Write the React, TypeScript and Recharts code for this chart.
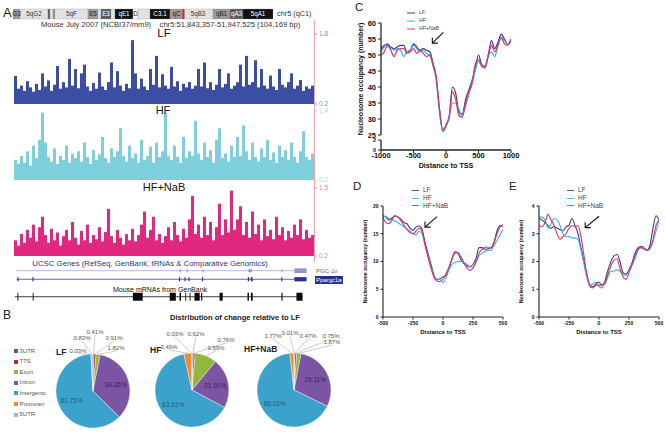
import React from 'react';
import {
  BarChart, Bar, LineChart, Line, ComposedChart, PieChart, Pie, Cell,
  XAxis, YAxis, Legend, ReferenceArea, ReferenceLine, LabelList,
} from 'recharts';

const FONT = '"Liberation Sans", Arial, Helvetica, sans-serif';

// ---------- A: ideogram of chr5 (band sizes in ideogram units) ----------
const bandNames = ['G3', '5qG2', '', '', '', '5qF', 'E5', '', 'E3', '', 'qE1', 'D', '', 'C3.1', 'qC', '5qB3', 'qB1', 'qA3', '5qA1'];
const bandSizes = [7, 28, 2, 3, 2, 33, 10, 3, 10, 4, 18, 5, 12, 20, 13, 30, 17, 13, 30];
const bandStains = ['gpos50', 'gneg', 'gpos75', 'gneg', 'gpos50', 'gneg', 'gpos50', 'gneg', 'gpos75', 'gneg', 'gpos100', 'white', 'gneg', 'gpos100', 'gpos50', 'gneg', 'gpos50', 'gpos75', 'gpos100'];
const viewPosition = 170.5;

// ---------- A: signal tracks (read density, 100 bins over the region) ----------
const trackLF = [
  0.84, 0.55, 0.62, 0.5, 0.72, 0.58, 0.48, 0.66, 0.52, 0.9,
  0.6, 0.74, 0.5, 0.64, 1.07, 0.55, 0.7, 0.58, 1.23, 0.62,
  1.0, 0.56, 0.9, 1.1, 0.6, 0.5, 0.68, 0.55, 0.92, 0.6,
  0.52, 0.7, 1.15, 0.58, 0.95, 0.62, 0.5, 0.66, 0.56, 1.66,
  0.9, 0.55, 0.78, 0.6, 0.52, 1.0, 0.64, 1.3, 0.58, 0.88,
  0.62, 0.55, 1.05, 0.6, 0.72, 0.5, 0.66, 0.58, 0.7, 0.55,
  0.62, 1.0, 0.6, 1.15, 0.56, 0.7, 0.52, 0.64, 1.0, 0.58,
  0.66, 0.9, 0.55, 0.62, 0.7, 1.1, 0.6, 1.3, 0.64, 0.7,
  1.2, 0.58, 1.0, 0.62, 0.55, 0.85, 0.6, 0.52, 1.0, 0.64,
  0.58, 0.7, 0.9, 0.55, 0.62, 0.75, 0.5, 0.6, 0.55, 0.62,
];
const trackHF = [
  0.55, 0.48, 0.62, 0.5, 0.7, 0.45, 0.8, 0.58, 0.9, 1.37,
  0.85, 0.6, 0.52, 0.75, 0.48, 0.62, 0.55, 0.8, 0.5, 0.66,
  0.58, 0.7, 0.52, 0.85, 0.6, 0.48, 0.72, 0.55, 0.65, 0.95,
  0.58, 0.5, 0.75, 0.6, 0.7, 1.1, 0.62, 0.52, 0.8, 0.58,
  0.66, 0.5, 0.9, 0.55, 0.62, 0.78, 0.5, 0.85, 0.6, 0.7,
  1.37, 0.62, 0.55, 0.8, 0.6, 0.5, 0.95, 0.58, 0.7, 0.62,
  1.23, 0.66, 0.55, 0.85, 0.6, 0.72, 0.5, 0.9, 1.1, 0.58,
  0.66, 0.52, 0.8, 0.6, 0.95, 0.62, 1.15, 0.7, 0.55, 0.85,
  0.6, 0.52, 0.75, 0.6, 0.9, 0.55, 0.68, 0.5, 0.8, 0.6,
  0.72, 0.55, 0.85, 0.6, 0.5, 0.7, 1.05, 0.6, 0.55, 0.66,
];
const trackNaB = [
  0.5, 0.4, 0.62, 0.45, 0.7, 0.55, 0.8, 0.48, 0.75, 0.95,
  0.6, 0.45, 0.72, 0.5, 0.65, 0.4, 0.58, 0.7, 0.5, 0.85,
  0.55, 0.42, 0.68, 0.5, 0.8, 0.45, 0.6, 0.52, 0.75, 0.48,
  0.66, 1.1, 0.58, 0.45, 0.7, 0.55, 0.42, 0.62, 0.5, 0.72,
  0.48, 0.6, 0.8, 1.05, 0.55, 0.7, 0.95, 0.5, 0.62, 0.45,
  0.58, 0.75, 0.5, 0.85, 0.6, 0.48, 0.72, 0.55, 0.9, 1.35,
  0.62, 0.8, 0.55, 0.95, 0.6, 0.85, 0.5, 0.75, 1.2, 0.6,
  0.9, 0.65, 1.45, 0.7, 0.9, 1.15, 0.6, 0.85, 0.55, 1.05,
  0.62, 0.8, 0.5, 0.9, 0.58, 0.7, 0.52, 0.95, 0.6, 0.75,
  0.5, 0.68, 0.55, 0.8, 0.6, 0.9, 0.52, 0.7, 0.55, 0.6,
];

// ---------- A: gene models (kb from region start) ----------
const regionKb = [0, 104.2];
const pgcSpan = [0.9, 101.6];
const pgcExons = [[57.5, 57.9], [60, 60.4], [65.5, 65.9], [81.4, 82.6], [92.9, 93.3], [97.4, 101.6]];
const ppargcSpan = [0.9, 101.6];
const ppargcExons = [[1.2, 1.6], [6.4, 6.8], [57.3, 57.7], [59.2, 59.6], [60.6, 61], [65.3, 65.7], [81.2, 81.7], [82.3, 82.9], [92.8, 93.2], [97.4, 101.6]];
const mrnaSpan = [0.3, 100.2];
const mrnaBlocks = [[1.2, 1.5], [6.5, 6.8], [41.3, 44.7], [54.1, 56.2], [57.5, 58], [59.5, 59.8], [61, 61.3], [62.7, 64.5], [65, 65.4], [71.4, 72.5], [81.1, 81.6], [82.3, 82.9], [92.9, 93.3], [98.1, 100.2]];

// ---------- B: genomic distribution (%) ----------
const pieCategories = ['3UTR', 'TTS', 'Exon', 'Intron', 'Intergenic', 'Promoter', '5UTR'];
const pieLF = [0.41, 0.91, 1.82, 34.26, 61.75, 0.03, 0.83];
const pieHF = [0.62, 0.76, 9.59, 21.90, 63.61, 3.49, 0.03];
const pieNaB = [0.47, 0.75, 1.87, 29.11, 66.02, 1.77, 0.01];

// ---------- C: nucleosome occupancy, +/-1000 bp ----------
const xC = [-1000, -950, -900, -850, -800, -750, -700, -650, -600, -550, -500, -450, -400, -350, -300, -250, -200, -150, -100, -50, 0, 50, 100, 150, 200, 250, 300, 350, 400, 450, 500, 550, 600, 650, 700, 750, 800, 850, 900, 950, 1000];
const cLF = [52, 53, 53.5, 52.5, 52, 52.5, 53, 53, 51, 51.5, 53.5, 52.5, 51.5, 52, 51.5, 51, 47.5, 43, 33, 26.5, 28, 31, 40, 38, 32, 31.5, 36, 39, 42, 46, 50, 47, 46.5, 50, 54.5, 52, 54, 56.5, 55, 53.5, 54.5];
const cHF = [51, 52.5, 53, 52, 51.5, 52, 51.5, 49.5, 51, 51.5, 53, 52, 51, 51.5, 50.5, 50, 46.5, 42, 32, 26, 27.5, 31, 35, 35, 33, 31, 34, 37.5, 41, 45, 48, 46.5, 46, 50, 51, 49.5, 53, 55.5, 54.5, 53.5, 54];
const cNaB = [50, 51, 53, 51.5, 49.5, 51.5, 52, 52, 50.5, 51, 52, 50.5, 51.5, 50.5, 49.5, 50, 47, 43, 33, 26.5, 28, 30.5, 38.5, 36, 31, 30.5, 35, 38.5, 41, 47, 48.5, 46.5, 46, 49.5, 53, 51, 53, 55.5, 53.5, 53, 55];

// ---------- D / E: +/-500 bp ----------
const xDE = [-500, -475, -450, -425, -400, -375, -350, -325, -300, -275, -250, -225, -200, -175, -150, -125, -100, -75, -50, -25, 0, 25, 50, 75, 100, 125, 150, 175, 200, 225, 250, 275, 300, 325, 350, 375, 400, 425, 450, 475, 500];
const dLF = [18.3, 18, 17.5, 17.8, 18.2, 18, 17.6, 17, 16.8, 16, 15.6, 16.2, 16.4, 15.8, 13.5, 11.5, 9.5, 7.5, 6.8, 6.9, 7.2, 7.5, 8.8, 10.5, 11.8, 11.5, 10.3, 9.6, 9.2, 9.1, 9.5, 10.5, 12.5, 12.5, 12.2, 12.3, 12.5, 13.5, 15.5, 16.5, 16.3];
const dHF = [18.2, 18.1, 17.8, 17.5, 17.3, 17, 16.6, 16.3, 15.8, 15.5, 15, 14.8, 15.5, 15, 13, 11, 9, 7.2, 6.8, 6.8, 6.2, 7, 8.5, 9.5, 9.8, 10, 10, 9.8, 9.5, 9, 9, 9.8, 11, 11.5, 11.8, 12, 12, 12.8, 13.8, 14.8, 15.8];
const dNaB = [18, 17, 16.8, 17.5, 18.3, 18, 17.3, 16.5, 15.8, 15.2, 15, 15.5, 16, 15.5, 13, 10.8, 8.8, 7.2, 6.5, 6.4, 6.8, 7.8, 9, 10.5, 11.5, 11.6, 10.8, 9.8, 8.8, 8.4, 8.8, 10, 11.5, 12.2, 12.5, 12.6, 12.4, 13.3, 15, 16.2, 16.6];
const eLF = [3.55, 3.5, 3.4, 3.3, 3.2, 3.25, 3.2, 3.15, 3.1, 3.25, 3.3, 3.55, 3.3, 3.0, 2.5, 2.0, 1.5, 1.15, 1.1, 1.2, 1.25, 1.15, 1.3, 1.7, 2.0, 2.2, 2.25, 2.0, 1.6, 1.55, 1.7, 1.95, 2.3, 2.5, 2.55, 2.5, 2.4, 2.6, 3.2, 3.65, 3.5];
const eHF = [3.6, 3.6, 3.5, 3.2, 3.35, 3.55, 3.5, 3.3, 3.0, 2.9, 2.9, 2.85, 2.85, 2.8, 2.4, 1.9, 1.4, 1.15, 1.2, 1.25, 1.1, 1.05, 1.25, 1.45, 1.65, 1.65, 1.7, 1.65, 1.55, 1.5, 1.65, 1.85, 2.1, 2.4, 2.5, 2.5, 2.4, 2.45, 2.7, 3.1, 3.45];
const eNaB = [3.3, 3.25, 3.4, 3.7, 3.5, 3.3, 3.0, 2.8, 2.9, 3.0, 3.2, 3.3, 3.25, 3.3, 2.9, 2.2, 1.5, 1.1, 1.05, 1.15, 1.15, 1.15, 1.2, 1.55, 1.85, 2.05, 2.1, 1.75, 1.45, 1.35, 1.6, 1.9, 2.2, 2.45, 2.5, 2.45, 2.4, 2.5, 2.8, 3.3, 3.5];

// arrows point at the upstream nucleosome (tail -> head, data coords)
const arrowC = [{ x: -40, y: 57.1 }, { x: -210, y: 53.7 }];
const arrowD = [{ x: -50, y: 18.1 }, { x: -150, y: 16.2 }];
const arrowE = [{ x: 0, y: 3.63 }, { x: -115, y: 3.22 }];

const SERIES_ORDER = ['LF', 'HF', 'HF+NaB'];

// ---------- styles ----------
const STAIN_FILL: Record<string, string> = {
  gneg: '#e2e2e2', white: '#ffffff', gpos50: '#9a9a9a', gpos75: '#5c5c5c', gpos100: '#111111',
};
const STAIN_TEXT: Record<string, string> = {
  gneg: '#333', white: '#222', gpos50: '#222', gpos75: '#fff', gpos100: '#fff',
};
const PIE_COLORS: Record<string, string> = {
  '3UTR': '#3d62a6', TTS: '#a8352f', Exon: '#93b63f', Intron: '#7b54a3',
  Intergenic: '#3ba3cb', Promoter: '#f28a2e', '5UTR': '#9db3d6',
};
const PIE_INNER_TEXT: Record<string, string> = { Intron: '#3a2258', Intergenic: '#1c5a78' };
const COL_LF = '#3e3994';
const COL_HF = '#38b3ea';
const COL_NAB = '#e2345c';
const RAD = Math.PI / 180;

// outside-label placement per pie (offset from pie centre, px)
const PIES = [
  {
    title: 'LF', values: pieLF, cx: 93, cy: 66,
    slots: { '3UTR': [2, -59], TTS: [21, -53], Exon: [23, -43], '5UTR': [-11, -53], Promoter: [-15, -40] } as Record<string, number[]>,
  },
  {
    title: 'HF', values: pieHF, cx: 192, cy: 65,
    slots: { '3UTR': [4, -56], TTS: [34, -50], Exon: [24, -42], '5UTR': [-17, -56], Promoter: [-23, -43] } as Record<string, number[]>,
  },
  {
    title: 'HF+NaB', values: pieNaB, cx: 294, cy: 65,
    slots: { '3UTR': [14, -54], TTS: [37, -54], Exon: [38, -48], '5UTR': [-4, -57], Promoter: [-21, -54] } as Record<string, number[]>,
  },
];

const txt = (left: number, top: number, size: number, extra: React.CSSProperties = {}): React.CSSProperties => ({
  position: 'absolute', left, top, fontSize: size, lineHeight: 1, whiteSpace: 'nowrap', ...extra,
});

const ArrowShape = (props: any) => {
  const { x1, y1, x2, y2 } = props;
  if ([x1, y1, x2, y2].some((v) => typeof v !== 'number' || isNaN(v))) return null;
  return (
    <g stroke="#111" strokeWidth={1.1} fill="none">
      <line x1={x1} y1={y1} x2={x2} y2={y2} />
      <polyline points={`${x2},${y2 - 5.5} ${x2},${y2} ${x2 + 5.5},${y2}`} />
    </g>
  );
};

const Track = ({ values, top, height, max, color, labelColor }: any) => {
  const data = values.map((v: number, i: number) => ({ bin: i, v }));
  return (
    <div style={{ position: 'absolute', left: 14, top }}>
      <BarChart width={324} height={height} data={data} margin={{ top: 0, right: 0, left: 0, bottom: 0 }} barCategoryGap={0} barGap={0}>
        <XAxis dataKey="bin" hide />
        <YAxis orientation="right" domain={[0.2, max]} ticks={[0.2, max]} interval={0} allowDataOverflow width={24}
          tick={{ fontSize: 6.5, fill: labelColor }} tickLine={{ stroke: labelColor }} tickSize={3} axisLine={false} />
        <Bar dataKey="v" fill={color} isAnimationActive={false} />
      </BarChart>
    </div>
  );
};

const legendFmt = (v: string) => <span style={{ color: '#444' }}>{v}</span>;
const legendSort = (item: any) => SERIES_ORDER.indexOf(item.value);

const ProfileChart = ({ left, top, data, yMax, yTicks, legendLeft, arrow }: any) => (
  <div style={{ position: 'absolute', left, top }}>
    <LineChart width={162} height={137} data={data} margin={{ top: 6, right: 5, left: 0, bottom: 0 }}>
      <XAxis dataKey="x" type="number" domain={[-500, 500]} ticks={[-500, -250, 0, 250, 500]} interval={0} allowDataOverflow height={20}
        tick={{ fontSize: 5, fontWeight: 'bold', fill: '#111' }} tickSize={2.5} axisLine={{ stroke: '#222', strokeWidth: 1.1 }} tickLine={{ stroke: '#222' }}
        label={{ value: 'Distance to TSS', position: 'insideBottom', offset: 3, style: { fontSize: 6, fontWeight: 'bold', fill: '#111' } }} />
      <YAxis domain={[0, yMax]} ticks={yTicks} interval={0} allowDataOverflow width={37}
        tick={{ fontSize: 5, fontWeight: 'bold', fill: '#111' }} tickSize={2.5} axisLine={{ stroke: '#222', strokeWidth: 1.1 }} tickLine={{ stroke: '#222' }}
        label={{ value: 'Nucleosome occupancy (number)', angle: -90, position: 'insideLeft', offset: 19, style: { fontSize: 5.2, fontWeight: 'bold', fill: '#111', textAnchor: 'middle' } }} />
      <Legend layout="vertical" align="center" verticalAlign="middle" iconType="plainline" iconSize={7} formatter={legendFmt} itemSorter={legendSort}
        wrapperStyle={{ left: legendLeft, top: -14, width: 'auto', fontSize: 6.5, lineHeight: '7.8px' }} />
      <Line dataKey="lf" name="LF" type="monotone" stroke={COL_LF} strokeWidth={1.1} dot={false} isAnimationActive={false} />
      <Line dataKey="hf" name="HF" type="monotone" stroke={COL_HF} strokeWidth={1.1} dot={false} isAnimationActive={false} />
      <Line dataKey="nab" name="HF+NaB" type="monotone" stroke={COL_NAB} strokeWidth={1.1} dot={false} isAnimationActive={false} />
      <ReferenceLine segment={arrow} shape={ArrowShape} ifOverflow="visible" />
    </LineChart>
  </div>
);

const makePieLabel = (values: number[], slots: Record<string, number[]>) => (props: any) => {
  const { cx, cy, midAngle, outerRadius, index } = props;
  const cat = pieCategories[index];
  const text = values[index].toFixed(2) + '%';
  if (values[index] >= 15) {
    const r = outerRadius * 0.64;
    return (
      <text x={cx + r * Math.cos(-midAngle * RAD)} y={cy + r * Math.sin(-midAngle * RAD)} textAnchor="middle"
        dominantBaseline="central" fontSize={6.5} fill={PIE_INNER_TEXT[cat]}>{text}</text>
    );
  }
  const [dx, dy] = slots[cat];
  const lx = cx + dx;
  const ly = cy + dy;
  const sx = cx + outerRadius * Math.cos(-midAngle * RAD);
  const sy = cy + outerRadius * Math.sin(-midAngle * RAD);
  return (
    <g>
      <line x1={sx} y1={sy} x2={lx} y2={ly + 3} stroke="#9a9a9a" strokeWidth={0.5} />
      <text x={lx} y={ly} textAnchor="middle" dominantBaseline="central" fontSize={6} fill="#555">{text}</text>
    </g>
  );
};

const App: React.FC = () => {
  const ideoRow = [bandSizes.reduce((o: any, s, i) => ({ ...o, ['b' + i]: s }), { row: 'chr5' })];
  const geneData = regionKb.map((kb) => ({ kb }));
  const cData = xC.map((x, i) => ({ x, lf: cLF[i], hf: cHF[i], nab: cNaB[i] }));
  const dData = xDE.map((x, i) => ({ x, lf: dLF[i], hf: dHF[i], nab: dNaB[i] }));
  const eData = xDE.map((x, i) => ({ x, lf: eLF[i], hf: eHF[i], nab: eNaB[i] }));
  const axisTick = { fontSize: 7.5, fontWeight: 'bold', fill: '#111' };

  return (
    <div style={{ position: 'absolute', left: 0, top: 0, width: 666, height: 433, background: '#fff', fontFamily: FONT, overflow: 'hidden', color: '#222' }}>
      <style>{'.recharts-surface{overflow:visible}'}</style>

      {/* ---------------- A ---------------- */}
      <div style={txt(3, 6, 13)}>A</div>
      <div style={{ position: 'absolute', left: 13, top: 8.5 }}>
        <BarChart layout="vertical" width={260} height={10} data={ideoRow} margin={{ top: 0, right: 0, bottom: 0, left: 0 }} barCategoryGap={0}>
          <XAxis type="number" domain={[0, 260]} allowDataOverflow hide />
          <YAxis type="category" dataKey="row" hide />
          {bandSizes.map((_, i) => (
            <Bar key={i} dataKey={'b' + i} stackId="chr" fill={STAIN_FILL[bandStains[i]]} stroke="#888" strokeWidth={0.3} isAnimationActive={false}>
              {bandNames[i] ? (
                <LabelList dataKey={'b' + i} position="center" formatter={() => bandNames[i]} fill={STAIN_TEXT[bandStains[i]]} fontSize={6.3} />
              ) : null}
            </Bar>
          ))}
          <ReferenceLine x={viewPosition} stroke="#e3242b" strokeWidth={2} ifOverflow="visible" />
        </BarChart>
      </div>
      <div style={txt(277, 9.5, 7.3, { color: '#333' })}>chr5 (qC1)</div>
      <div style={txt(41, 20.5, 7.6, { color: '#333' })}>Mouse July 2007 (NCBI37/mm9)&nbsp;&nbsp;&nbsp; chr5:51,843,357-51,947,525 (104,169 bp)</div>

      <Track values={trackLF} top={34} height={70} max={1.8} color="#3c4ea3" labelColor="#7f8bd0" />
      <Track values={trackHF} top={111} height={69} max={1.4} color="#7dcfdc" labelColor="#9fdbe3" />
      <Track values={trackNaB} top={188} height={68} max={1.5} color="#e2287e" labelColor="#ef7ba2" />
      <div style={{ position: 'absolute', left: 314, top: 20, width: 1, height: 242, background: '#f6a3b0' }} />
      <div style={txt(164, 28, 11.5, { transform: 'translateX(-50%)', color: '#111' })}>LF</div>
      <div style={txt(163, 105, 11, { transform: 'translateX(-50%)', color: '#111' })}>HF</div>
      <div style={txt(164, 182, 11, { transform: 'translateX(-50%)', color: '#111' })}>HF+NaB</div>

      <div style={txt(150, 259.5, 7.8, { transform: 'translateX(-50%)', color: '#2e3480' })}>UCSC Genes (RefSeq, GenBank, tRNAs &amp; Comparative Genomics)</div>
      <div style={{ position: 'absolute', left: 14, top: 265 }}>
        <ComposedChart width={300} height={38} data={geneData} margin={{ top: 0, right: 0, bottom: 0, left: 0 }}>
          <XAxis type="number" dataKey="kb" domain={[0, 104.2]} allowDataOverflow hide />
          <YAxis type="number" domain={[0, 10]} allowDataOverflow hide />
          <ReferenceLine segment={[{ x: pgcSpan[0], y: 8.5 }, { x: pgcSpan[1], y: 8.5 }]} stroke="#a3a3d6" strokeWidth={0.8} ifOverflow="visible" />
          {pgcExons.map(([s, e], i) => (
            <ReferenceArea key={'pg' + i} x1={s} x2={e} y1={8.5 - (i === pgcExons.length - 1 ? 0.6 : 0.4)} y2={8.5 + (i === pgcExons.length - 1 ? 0.6 : 0.4)}
              fill="#8f8fca" fillOpacity={1} stroke="none" ifOverflow="visible" />
          ))}
          <ReferenceLine segment={[{ x: ppargcSpan[0], y: 6.25 }, { x: ppargcSpan[1], y: 6.25 }]} stroke="#3a3f95" strokeWidth={0.8} ifOverflow="visible" />
          {ppargcExons.map(([s, e], i) => (
            <ReferenceArea key={'pp' + i} x1={s} x2={e} y1={6.25 - 0.55} y2={6.25 + 0.55}
              fill="#262b84" fillOpacity={1} stroke="none" ifOverflow="visible" />
          ))}
          <ReferenceLine segment={[{ x: mrnaSpan[0], y: 1.65 }, { x: mrnaSpan[1], y: 1.65 }]} stroke="#111" strokeWidth={0.8} ifOverflow="visible" />
          {mrnaBlocks.map(([s, e], i) => (
            <ReferenceArea key={'mr' + i} x1={s} x2={e} y1={1.65 - 1.05} y2={1.65 + 1.05}
              fill="#0a0a0a" fillOpacity={1} stroke="none" ifOverflow="visible" />
          ))}
        </ComposedChart>
      </div>
      <div style={txt(316, 268, 6, { color: '#666' })}>PGC-1v</div>
      <div style={txt(315, 276, 6, { color: '#fff', background: '#2a2f88', padding: '1px 1px' })}>Ppargc1a</div>
      <div style={txt(160, 286, 7, { transform: 'translateX(-50%)', color: '#111' })}>Mouse mRNAs from GenBank</div>

      {/* ---------------- B ---------------- */}
      <div style={txt(3, 309, 12)}>B</div>
      <div style={txt(170, 314, 7.6, { fontWeight: 'bold', color: '#222' })}>Distribution of change relative to LF</div>
      {pieCategories.map((c, i) => (
        <div key={c} style={txt(14, 347.5 + i * 10.6, 6, { color: '#555' })}>
          <span style={{ display: 'inline-block', width: 4, height: 4, background: PIE_COLORS[c], marginRight: 1.5, verticalAlign: 'middle' }} />
          {c}
        </div>
      ))}
      <div style={txt(56, 348, 8.5, { fontWeight: 'bold', color: '#222' })}>LF</div>
      <div style={txt(150, 346, 8.5, { fontWeight: 'bold', color: '#222' })}>HF</div>
      <div style={txt(244, 345, 8.5, { fontWeight: 'bold', color: '#222' })}>HF+NaB</div>
      <div style={{ position: 'absolute', left: 0, top: 325, width: 340, height: 108, overflow: 'hidden' }}>
        <PieChart width={340} height={108} margin={{ top: 0, right: 0, bottom: 0, left: 0 }}>
          {PIES.map((p) => (
            <Pie key={p.title} data={pieCategories.map((name, i) => ({ name, value: p.values[i] }))} dataKey="value" nameKey="name"
              cx={p.cx} cy={p.cy} outerRadius={37} startAngle={90} endAngle={-270} stroke="#ffffff" strokeWidth={0.4}
              label={makePieLabel(p.values, p.slots)} labelLine={false} isAnimationActive={false}>
              {pieCategories.map((c) => <Cell key={c} fill={PIE_COLORS[c]} />)}
            </Pie>
          ))}
        </PieChart>
      </div>

      {/* ---------------- C ---------------- */}
      <div style={txt(355, 2, 11.5)}>C</div>
      <div style={{ position: 'absolute', left: 340, top: 0 }}>
        <LineChart width={180} height={137} data={cData} margin={{ top: 23, right: 9, left: 0, bottom: 2 }}>
          <XAxis dataKey="x" type="number" domain={[-1000, 1000]} allowDataOverflow hide />
          <YAxis domain={[25, 60]} ticks={[25, 30, 35, 40, 45, 50, 55, 60]} interval={0} allowDataOverflow width={41}
            tick={axisTick} tickSize={3} axisLine={{ stroke: '#222', strokeWidth: 1.3 }} tickLine={{ stroke: '#222' }}
            label={{ value: 'Nucleosome occupancy (number)', angle: -90, position: 'insideLeft', offset: 21, style: { fontSize: 7, fontWeight: 'bold', fill: '#111', textAnchor: 'middle' } }} />
          <Legend layout="vertical" align="center" verticalAlign="middle" iconType="plainline" iconSize={8} formatter={legendFmt} itemSorter={legendSort}
            wrapperStyle={{ left: 67, top: 8.6, width: 'auto', fontSize: 5.2, lineHeight: '7.3px' }} />
          <Line dataKey="lf" name="LF" type="monotone" stroke={COL_LF} strokeWidth={1.2} dot={false} isAnimationActive={false} />
          <Line dataKey="hf" name="HF" type="monotone" stroke={COL_HF} strokeWidth={1.2} dot={false} isAnimationActive={false} />
          <Line dataKey="nab" name="HF+NaB" type="monotone" stroke={COL_NAB} strokeWidth={1.2} dot={false} isAnimationActive={false} />
          <ReferenceLine segment={arrowC} shape={ArrowShape} ifOverflow="visible" />
        </LineChart>
      </div>
      <div style={{ position: 'absolute', left: 340, top: 137 }}>
        <LineChart width={180} height={33} data={cData} margin={{ top: 3, right: 9, left: 0, bottom: 0 }}>
          <XAxis dataKey="x" type="number" domain={[-1000, 1000]} ticks={[-1000, -500, 0, 500, 1000]} interval={0} allowDataOverflow height={20}
            tick={axisTick} tickSize={3} tickMargin={0} axisLine={{ stroke: '#222', strokeWidth: 1.3 }} tickLine={{ stroke: '#222' }}
            label={{ value: 'Distance to TSS', position: 'insideBottom', offset: 2.4, style: { fontSize: 7.2, fontWeight: 'bold', fill: '#111' } }} />
          <YAxis domain={[0, 2]} ticks={[0, 2]} interval={0} allowDataOverflow width={41}
            tick={{ ...axisTick, fontSize: 5.5 }} tickSize={3} axisLine={{ stroke: '#222', strokeWidth: 1.3 }} tickLine={{ stroke: '#222' }} />
        </LineChart>
      </div>

      {/* ---------------- D / E ---------------- */}
      <div style={txt(353, 181, 11.5)}>D</div>
      <ProfileChart left={346} top={200} data={dData} yMax={20} yTicks={[0, 5, 10, 15, 20]} legendLeft={66} arrow={arrowD} />
      <div style={txt(509, 181, 11.5)}>E</div>
      <ProfileChart left={502} top={200} data={eData} yMax={4} yTicks={[0, 1, 2, 3, 4]} legendLeft={65} arrow={arrowE} />
    </div>
  );
};

export default App;
